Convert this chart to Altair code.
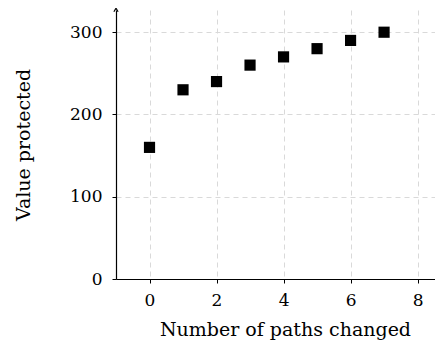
import altair as alt
import pandas as pd

paths_changed = [0, 1, 2, 3, 4, 5, 6, 7]
value_protected = [160, 230, 240, 260, 270, 280, 290, 300]
x_ticks = [0, 2, 4, 6, 8]
y_ticks = [0, 100, 200, 300]

X_DOM = [-1, 8.52]
Y_DOM = [0, 327]
FONT = "DejaVu Serif"

df = pd.DataFrame({"x": paths_changed, "y": value_protected})

x_scale = alt.Scale(domain=X_DOM, nice=False, zero=False)
y_scale = alt.Scale(domain=Y_DOM, nice=False)

x_enc = alt.X("x:Q", scale=x_scale,
              axis=alt.Axis(values=x_ticks, title="Number of paths changed",
                            grid=True, gridDash=[5, 4], gridColor="#d9d9d9",
                            domainColor="black", domainWidth=1.2,
                            tickColor="black", tickSize=4,
                            labelFont=FONT, labelFontSize=17, labelColor="black",
                            labelPadding=9,
                            titleFont=FONT, titleFontSize=19, titleFontWeight="normal",
                            titleColor="black", titlePadding=12, titleX=169))
y_enc = alt.Y("y:Q", scale=y_scale,
              axis=alt.Axis(values=y_ticks, title="Value protected",
                            grid=True, gridDash=[5, 4], gridColor="#d9d9d9",
                            domainColor="black", domainWidth=1.2,
                            tickColor="black", tickSize=4,
                            labelFont=FONT, labelFontSize=17, labelColor="black",
                            labelPadding=10,
                            titleFont=FONT, titleFontSize=19, titleFontWeight="normal",
                            titleColor="black", titlePadding=36))

points = alt.Chart(df).mark_point(shape="square", filled=True, color="black",
                                  size=125, opacity=1).encode(x=x_enc, y=y_enc)

arrow_df = pd.DataFrame({"x": [X_DOM[0]], "y": [Y_DOM[1]]})
arrow = alt.Chart(arrow_df).mark_point(
    shape="M -0.6 0.5 L 0 -0.5 L 0.6 0.5", filled=False, color="black",
    strokeWidth=1.2, size=50, opacity=1, clip=False
).encode(x=alt.X("x:Q", scale=x_scale), y=alt.Y("y:Q", scale=y_scale))

chart = alt.layer(points, arrow).properties(
    width=319, height=269,
    background="white",
    autosize=alt.AutoSizeParams(type="none"),
    padding={"left": 108, "top": 2, "right": 0, "bottom": 62},
).configure_view(stroke=None)

chart.save("out.html", embed_options={"renderer": "svg", "actions": False})
